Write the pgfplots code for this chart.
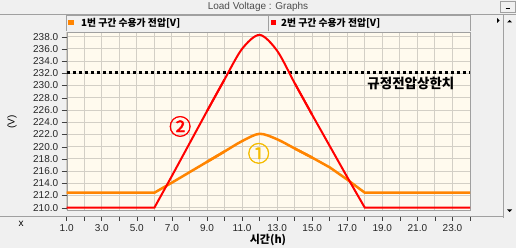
\documentclass[border=0pt]{standalone}
\usepackage{pgfplots}
\pgfplotsset{compat=1.18}
\usepackage{fontspec}
\setmainfont{Liberation Sans}
\newfontfamily\kr{Noto Sans CJK KR}
\newfontfamily\krfat[FakeBold=2]{Noto Sans CJK KR}
\definecolor{winbg}{HTML}{F0F0F0}
\definecolor{plotbg}{HTML}{FFFAEE}
\definecolor{gridc}{HTML}{D3CFC6}
\definecolor{orng}{HTML}{FF8400}
\definecolor{circA}{HTML}{F5BC00}
\definecolor{frm}{HTML}{A0A0A0}
\begin{document}
\begin{tikzpicture}[x=1pt,y=1pt]
\useasboundingbox (0,0) rectangle (516,248);
\fill[winbg] (0,0) rectangle (516,248);
% title bar
\node[text=black!70, font=\fontsize{10}{12}\selectfont] at (258,241) {Load Voltage : Graphs};
\draw[frm] (0,234) -- (516,234);
\draw[frm, fill=winbg] (500.5,235.5) rectangle (515.5,247);
\draw[black, line width=0.9pt] (505.5,240) -- (509.5,240);
% legend boxes
\draw[frm] (66,217) -- (66,233) -- (470,233) -- (470,217);
\draw[frm] (268,233) -- (268,217);
\fill[orng] (68,223) rectangle (73.5,227.5);
\node[anchor=west, inner sep=0pt, font=\kr\bfseries\fontsize{9.8}{11}\selectfont] at (81,225) {1번 구간 수용가 전압[V]};
\fill[red] (271,223) rectangle (276,227.5);
\node[anchor=west, inner sep=0pt, font=\kr\bfseries\fontsize{9.8}{11}\selectfont] at (281,225) {2번 구간 수용가 전압[V]};
% scrollbar
\fill[black!6] (503,30) rectangle (516,233);
\draw[frm] (503,30) -- (503,233);
\fill[black] (507,225.5) -- (512,225.5) -- (509.5,228) -- cycle;
\fill[black] (507,38.5) -- (512,38.5) -- (509.5,36) -- cycle;
\fill[black] (497,230) -- (497,225) -- (499.5,227.5) -- cycle;
% separator above x axis
\draw[frm] (0,31.3) -- (503,31.3);
% axis labels
\node[rotate=90, font=\fontsize{10}{12}\selectfont] at (12,126) {(V)};
\node[font=\fontsize{10}{12}\selectfont] at (21,24) {x};
\node[font=\kr\bfseries\fontsize{11}{12}\selectfont] at (268,8) {시간(h)};

\begin{axis}[
  at={(66.7pt,38pt)}, anchor=south west,
  scale only axis, width=403.3pt, height=178pt,
  xmin=1, xmax=24, ymin=209.62, ymax=238.77,
  axis background/.style={fill=plotbg},
  xtick={1,...,24}, xmajorticks=false,
  ytick={210,212,...,238},
  grid=major, grid style={gridc, line width=0.9pt},
  axis line style={frm},
  ytick pos=left, tick align=outside, major tick length=5pt,
  tick style={black!75},
  yticklabel style={font=\fontsize{10}{12}\selectfont, text=black!85,
    /pgf/number format/.cd, fixed, fixed zerofill, precision=1, assume math mode=true},
  clip=false,
]
\addplot[black, line width=3pt, dash pattern=on 3pt off 3pt] coordinates {(1,232.2) (24,232.2)};
% series 1 (orange)
\addplot[orng, line width=2.5pt] coordinates {(1,212.45) (6,212.45) (7,214.1) (8,215.8) (9,217.5) (10,219.2)};
\addplot[orng, line width=2.5pt, smooth] coordinates {(9,217.5) (10,219.2) (11,220.9) (12,222.1) (13,221.2) (14,219.7) (15,218.2)};
\addplot[orng, line width=2.5pt] coordinates {(14,219.7) (15,218.2) (16,216.6) (17,214.6) (18,212.45) (24,212.45)};
% series 2 (red)
\addplot[red, line width=2pt] coordinates {(1,210) (6,210) (7,215.2) (8,220.5) (9,225.8) (10,231)};
\addplot[red, line width=2pt, smooth] coordinates {(9,225.8) (10,231) (11,236.0) (12,238.3) (13,235.7) (14,230.4) (15,225.2)};
\addplot[red, line width=2pt] coordinates {(14,230.4) (15,225.2) (16,220.1) (17,215.0) (18,210) (24,210)};
\node[red, font=\krfat\fontsize{22}{24}\selectfont] at (axis cs:7.47,223.3) {②};
\node[circA, font=\krfat\fontsize{22}{24}\selectfont] at (axis cs:11.95,218.9) {①};
\node[font=\kr\bfseries\fontsize{13.5}{15}\selectfont] at (axis cs:20.63,230.4) {규정전압상한치};
\end{axis}

\begin{axis}[
  at={(66.7pt,31.3pt)}, anchor=south west,
  scale only axis, width=403.3pt, height=1pt,
  xmin=1, xmax=24, ymin=0, ymax=1,
  separate axis lines, axis x line=bottom, hide y axis,
  x axis line style={draw=none},
  xtick={1,3,...,23}, minor xtick={2,4,...,24},
  tick align=outside, major tick length=4pt, minor tick length=4pt,
  tick style={black!75, line width=0.6pt},
  xticklabel style={font=\fontsize{10}{12}\selectfont, text=black!85,
    /pgf/number format/.cd, fixed, fixed zerofill, precision=1, assume math mode=true},
]
\end{axis}
\end{tikzpicture}
\end{document}
